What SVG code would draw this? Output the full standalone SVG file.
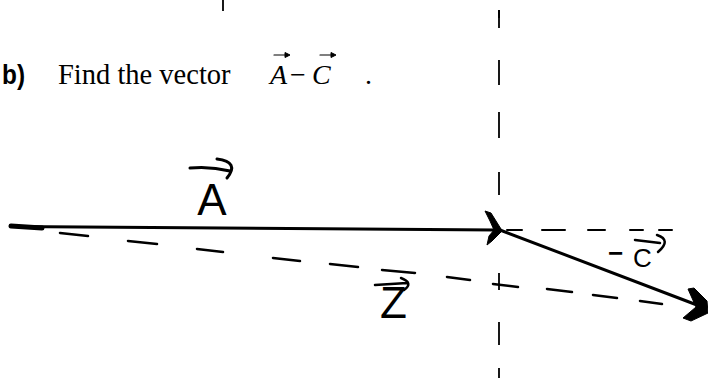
<svg xmlns="http://www.w3.org/2000/svg" width="708" height="378" viewBox="0 0 708 378">
  <style>
    .serif { font-family: "Liberation Serif", "Times New Roman", serif; fill: #000; }
    .hand { font-family: "Liberation Sans", Arial, sans-serif; fill: #000; }
    .ink { stroke: #000; fill: none; stroke-linecap: round; }
    .dash { stroke: #000; stroke-width: 2.5; fill: none; stroke-linecap: round; }
    .guide { stroke: #000; stroke-width: 1.8; fill: none; }
    .head { fill: #000; stroke: #000; stroke-width: 1; stroke-linejoin: round; }
  </style>
  <rect width="708" height="378" fill="#fff"/>

  <g id="guides">
    <line class="guide" x1="223" y1="0" x2="223" y2="11"/>
    <path class="guide" d="M499,10 V28 M499,60 V85 M499,112 V138 M499,172 V195 M499,273 V290 M499,322 V345 M499,368 V378"/>
    <path class="guide" stroke-width="3.5" d="M499,10 V18"/>
  </g>

  <g id="question">
    <text class="hand" x="2" y="84" font-size="28" font-weight="bold" textLength="23" lengthAdjust="spacingAndGlyphs">b)</text>
    <text class="serif" x="58" y="84" font-size="28.5">Find the vector</text>
    <text class="serif" x="270" y="84" font-size="28" font-style="italic">A</text>
    <text class="serif" x="290" y="84" font-size="28">−</text>
    <text class="serif" x="312" y="84" font-size="28" font-style="italic">C</text>
    <text class="serif" x="365" y="84" font-size="28">.</text>
    <path class="ink" stroke-width="1.2" d="M274,55 H286 M320,55 H332"/>
    <path class="head" d="M285,52.5 L290,55 L285,57.5 Z M331,52.5 L336,55 L331,57.5 Z"/>
  </g>

  <g id="connectors">
    <!-- vector A -->
    <path class="ink" stroke-width="5" d="M11,226 L42,228"/>
    <path class="ink" stroke-width="3" d="M12,226.5 L496,230"/>
    <path class="head" d="M485,211 L491,213 L501,229 L501,232 L492,241 L487,245 L489,236 L494,230 L490,221 Z"/>
    <!-- dashed extension of A -->
    <path class="ink" stroke-width="2" d="M507,230 H522 M542,230 H565 M588,230 H605 M630,230 H643 M659,230 H672"/>
    <!-- vector -C -->
    <path class="ink" stroke-width="3" d="M500,230 L697,305"/>
    <path class="head" d="M688,289 L694,288 L707,301 L708,313 L691,321 L683,318 L696,307 Z"/>
    <!-- dashed resultant -->
    <path class="dash" d="M60,233 L88,236 M128,241 L157,244 M197,249 L223,252 M273,258 L300,261 M330,264 L358,267 M382,270 L415,273 M447,277 L470,280 M493,284 L518,287 M547,289 L572,292 M593,295 L617,298 M640,301 L662,304"/>
  </g>

  <g id="label-A">
    <text class="hand" x="212" y="215" font-size="44" text-anchor="middle">A</text>
    <path class="ink" stroke-width="3" d="M190,168 Q210,166 230,171 M217,159 Q240,162 227,178"/>
  </g>

  <g id="label-C">
    <text class="hand" x="608" y="262" font-size="26" font-weight="bold">−<tspan x="633" y="267" font-weight="normal">C</tspan></text>
    <path class="ink" stroke-width="2.5" d="M635,240 L660,243 M657,235 Q672,240 658,252"/>
  </g>

  <g id="label-Z">
    <text class="hand" x="380" y="318" font-size="44">Z</text>
    <path class="ink" stroke-width="2.5" d="M375,285 L407,283 M401,278 Q414,283 404,290"/>
  </g>
</svg>
